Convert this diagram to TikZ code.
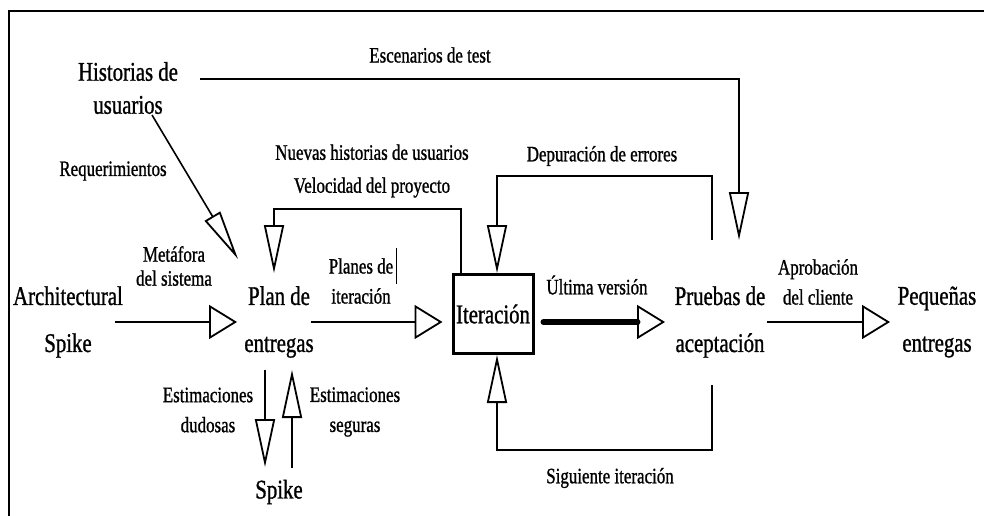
\documentclass[tikz,border=0pt]{standalone}
\usepackage{fontspec}
\setmainfont{Liberation Serif}[FakeStretch=0.77, FakeBold=1]
\usetikzlibrary{arrows.meta,calc}

\tikzset{
   big/.style={font=\fontsize{27}{47}\selectfont, align=center, inner sep=0pt},
   small/.style={font=\fontsize{22}{31}\selectfont, align=center, inner sep=0pt},
   conn/.style={line width=1.6pt},
   harr/.style={conn, -{Triangle[open, length=28pt, width=34pt, line width=1.8pt]}},
   varr/.style={conn, -{Triangle[open, length=48pt, width=20pt, line width=1.8pt]}},
   darr/.style={conn, -{Triangle[open, length=50pt, width=18pt, line width=1.8pt]}},
   iterbox/.style={big, draw, line width=3pt, minimum width=80pt, minimum height=79pt}
}

\begin{document}
\begin{tikzpicture}[x=1pt, y=-1pt]
   \useasboundingbox (0,0) rectangle (984,516);
   \draw[line width=1.5pt] (9,516) |- (984,11);

   \node[big] (hist)  at (128,88)  {Historias de\\[-14pt]usuarios};
   \node[big] (arch)  at (68,322)  {Architectural\\Spike};
   \node[big] (plan)  at (279,322) {Plan de\\entregas};
   \node[iterbox] (iter) at (493,314) {Iteración};
   \node[big] (prueb) at (720,322) {Pruebas de\\aceptación};
   \node[big] (peq)   at (937,322) {Pequeñas\\entregas};
   \node[big] (spike) at (279,492) {Spike};

   \node[small] (esc)    at (430,55)  {Escenarios de test};
   \node[small] (req)    at (113,171) {Requerimientos};
   \node[small] (nuevas) at (372,171) {Nuevas historias de usuarios\\[2pt]Velocidad del proyecto};
   \node[small] (meta)   at (174,266) {Metáfora\\[-7pt]del sistema};
   \node[small] (planes) at (361,281) {Planes de\\[-1pt]iteración};
   \node[small] (ultima) at (597,285) {Última versión};
   \node[small] (aprob)  at (818,282) {Aprobación\\[-1pt]del cliente};
   \node[small] (depur)  at (602,156) {Depuración de errores};
   \node[small] (estdud) at (208,410) {Estimaciones\\[-1pt]dudosas};
   \node[small] (estseg) at (355,412) {Estimaciones\\[-1pt]seguras};
   \node[small] (sig)    at (610,478) {Siguiente iteración};
   \draw[line width=1.5pt] ($(planes.east)+(3,-33)$) -- ++(0,36);

   \draw[varr] ($(hist.center)+(72,-9)$) -| ($(prueb.center)+(19,-82)$);
   \draw[darr] ($(hist.center)+(24,27)$) -- ($(plan.center)+(-41,-63)$);
   \draw[harr] ($(arch.center)+(47,0)$) -- ($(plan.center)+(-42,0)$);
   \draw[harr] ($(plan.center)+(32,0)$) -- ($(iter.west)+(-9,8)$);
   \draw[harr, line width=6pt, line cap=round] ($(iter.east)+(9,8)$) -- ($(prueb.center)+(-55,0)$);
   \draw[harr] ($(prueb.center)+(47,0)$) -- ($(peq.center)+(-47,0)$);
   \draw[varr] ($(iter.north)+(-32,0)$) |- ($(plan.center)+(-5,-113)$) -- ($(plan.center)+(-5,-49)$);
   \draw[varr] ($(prueb.center)+(-8,-82)$) |- ($(iter.north)+(4,-97)$) -- ($(iter.north)+(4,0)$);
   \draw[varr] ($(prueb.center)+(-8,63)$) |- ($(iter.south)+(4,95)$) -- ($(iter.south)+(4,0)$);
   \draw[varr] ($(plan.center)+(-14,48)$) -- ($(spike.center)+(-14,-25)$);
   \draw[varr] ($(spike.center)+(13,-24)$) -- ($(plan.center)+(13,48)$);
\end{tikzpicture}
\end{document}
